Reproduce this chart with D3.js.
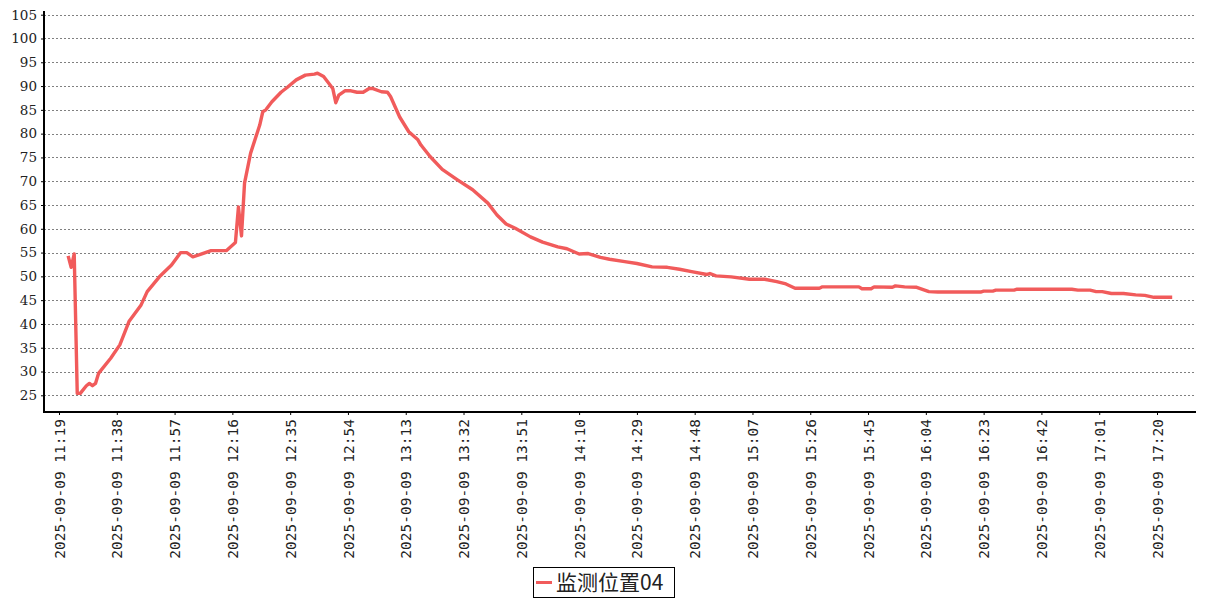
<!DOCTYPE html>
<html>
<head>
<meta charset="utf-8">
<title>监测位置04</title>
<style>
body { margin: 0; background: #fff; }
.grid line { stroke: #808080; stroke-width: 1; stroke-dasharray: 2,2; }
.axis text { fill: #222; }
.line { fill: none; stroke: #f15b5b; stroke-width: 3.4px; stroke-linejoin: round; }
</style>
<script src="https://d3js.org/d3.v7.min.js"></script>
</head>
<body>
<svg id="chart" width="1207" height="600"></svg>
<script>
// readings of 监测位置04, 2025-09-09
var times = ["11:22","11:23","11:24","11:25","11:26","11:28","11:29","11:30","11:31","11:32",
  "11:36","11:39","11:42","11:46","11:48","11:52","11:56","11:59","12:01","12:03",
  "12:05","12:09","12:14","12:17","12:18","12:19","12:20","12:22","12:25","12:26",
  "12:27","12:29","12:32","12:34","12:37","12:40","12:43","12:44","12:46","12:49",
  "12:50","12:51","12:53","12:55","12:57","12:59","13:01","13:02","13:05","13:07",
  "13:08","13:11","13:14","13:17","13:18","13:21","13:25","13:30","13:35","13:40",
  "13:43","13:46","13:49","13:54","13:58","14:03","14:06","14:10","14:13","14:17",
  "14:20","14:25","14:29","14:34","14:39","14:43","14:47","14:52","14:53","14:55",
  "15:00","15:06","15:11","15:15","15:18","15:21","15:29","15:30","15:42","15:43",
  "15:46","15:47","15:53","15:54","15:57","16:01","16:05","16:08","16:22","16:23",
  "16:26","16:27","16:33","16:34","16:52","16:54","16:58","17:00","17:02","17:05",
  "17:09","17:13","17:16","17:19","17:25"];
var values = [54.3,51.9,54.7,25.4,25.4,27.0,27.5,27.0,27.5,29.6,
  32.8,35.6,40.5,44.0,46.8,49.9,52.4,55.0,55.0,54.1,
  54.5,55.4,55.4,57.1,64.6,58.5,69.6,75.9,81.8,84.6,
  85.0,86.7,88.7,89.7,91.3,92.3,92.5,92.7,92.0,89.5,
  86.5,88.1,89.0,89.0,88.7,88.7,89.5,89.5,88.8,88.7,
  87.8,83.5,80.4,78.7,77.6,75.2,72.5,70.3,68.2,65.4,
  62.9,61.0,60.1,58.3,57.2,56.2,55.8,54.7,54.8,54.0,
  53.6,53.1,52.7,52.0,51.9,51.5,51.0,50.4,50.6,50.1,
  49.9,49.4,49.4,48.9,48.4,47.5,47.5,47.8,47.8,47.4,
  47.4,47.8,47.7,48.0,47.8,47.7,46.8,46.7,46.7,46.9,
  46.9,47.1,47.1,47.3,47.3,47.1,47.1,46.8,46.8,46.4,
  46.4,46.1,46.0,45.6,45.6];
var tickLabels = ["11:19","11:38","11:57","12:16","12:35","12:54","13:13","13:32","13:51","14:10",
  "14:29","14:48","15:07","15:26","15:45","16:04","16:23","16:42","17:01","17:20"];
var yTicks = d3.range(25, 106, 5);
var seriesName = "监测位置04";
var day = "2025-09-09 ";

var parseTime = d3.timeParse("%Y-%m-%d %H:%M");
var fmt = d3.timeFormat("%Y-%m-%d %H:%M");

var data = times.map(function(t, i) { return {t: parseTime(day + t), v: values[i]}; });
var tickDates = tickLabels.map(function(t) { return parseTime(day + t); });

var left = 44, right = 1196, axisTop = 11, axisBottom = 412;

var x = d3.scaleTime()
  .domain([tickDates[0], tickDates[tickDates.length - 1]])
  .range([59, 1157]);
var y = d3.scaleLinear().domain([25, 105]).range([395.3, 14.7]);

var svg = d3.select("#chart");

// grid lines
svg.append("g").attr("class", "grid")
  .selectAll("line").data(yTicks).enter().append("line")
  .attr("x1", left).attr("x2", right - 2)
  .attr("y1", function(d) { return Math.round(y(d)) + 0.5; })
  .attr("y2", function(d) { return Math.round(y(d)) + 0.5; });

// y axis
var yAxis = svg.append("g").attr("class", "axis")
  .attr("transform", "translate(" + left + ",0)")
  .call(d3.axisLeft(y).tickValues(yTicks).tickSize(3).tickPadding(4));
yAxis.select(".domain").remove();
yAxis.selectAll("text").style("font", "13.5px 'DejaVu Serif', serif");
svg.append("line").attr("x1", left).attr("x2", left)
  .attr("y1", axisTop).attr("y2", axisBottom)
  .attr("stroke", "#000").attr("stroke-width", 2);

// x axis
var xAxis = svg.append("g").attr("class", "axis")
  .attr("transform", "translate(0," + axisBottom + ")")
  .call(d3.axisBottom(x).tickValues(tickDates).tickFormat(fmt).tickSize(3));
xAxis.select(".domain").remove();
xAxis.selectAll("text")
  .style("font", "14.5px 'DejaVu Sans Mono', monospace")
  .attr("transform", "rotate(-90)")
  .attr("text-anchor", "end")
  .attr("x", -7).attr("y", 0).attr("dy", "0.35em")
  .attr("dx", 0);
svg.append("line").attr("x1", left - 1).attr("x2", right)
  .attr("y1", axisBottom).attr("y2", axisBottom)
  .attr("stroke", "#000").attr("stroke-width", 2);

// series line
var line = d3.line()
  .x(function(d) { return x(d.t); })
  .y(function(d) { return y(d.v); });
svg.append("path").datum(data).attr("class", "line").attr("d", line);

// legend
var lg = svg.append("g").attr("transform", "translate(533,567)");
lg.append("rect").attr("x", 0.5).attr("y", 0.5).attr("width", 141).attr("height", 30)
  .attr("fill", "#fff").attr("stroke", "#000").attr("stroke-width", 1);
lg.append("line").attr("x1", 3).attr("x2", 19).attr("y1", 15.5).attr("y2", 15.5)
  .attr("stroke", "#f15b5b").attr("stroke-width", 3);
lg.append("text").attr("x", 23).attr("y", 23)
  .style("font", "21px 'Noto Sans CJK SC', sans-serif").attr("fill", "#222")
  .text(seriesName);
</script>
</body>
</html>
